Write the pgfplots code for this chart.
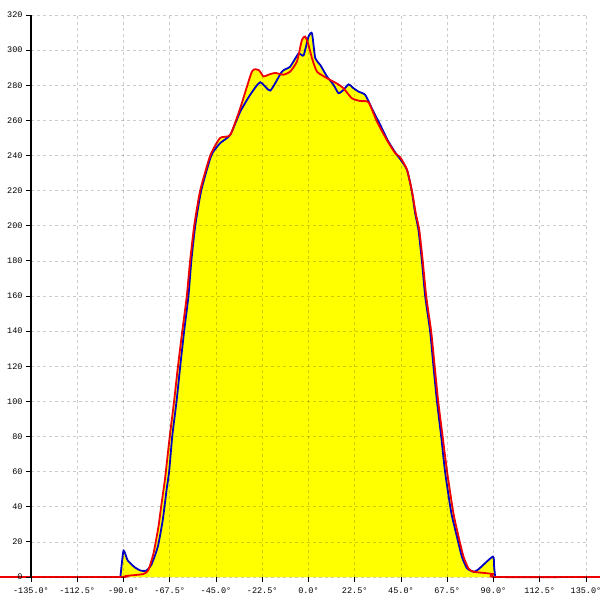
\documentclass[border=0pt]{standalone}
\usepackage{fontspec}
\setmonofont{Liberation Mono}
\usepackage{pgfplots}
\pgfplotsset{compat=1.18}
\definecolor{lblue}{RGB}{0,0,200}
\definecolor{lred}{RGB}{240,0,0}
\definecolor{lyellow}{RGB}{255,255,0}

\pgfplotstableread{
x y
-91.5 0
-90.0 15.0
-88.0 9.5
-84.5 5.5
-81.5 3.6
-79.0 3.6
-76.5 6.8
-73.3 17.3
-70.9 32.5
-69.0 50
-67.8 60
-66.3 80
-64.2 100
-62.4 120
-60.5 140
-58.4 160
-57.0 180
-55.1 200
-52.2 220
-47.3 240
-43.0 247
-38.1 251.7
-33.2 265
-28.4 274.5
-23.5 281.7
-18.6 277
-12.9 287.8
-8.9 290.6
-4.9 298
-2.4 297
0.0 307.7
1.7 309.5
3.3 295.4
5.7 291.6
9.0 285
12.2 280.2
14.6 275.5
17.0 277.3
19.5 280.5
21.9 278.3
24.3 276.4
27.6 274.5
30.8 266.9
34.9 257.4
38.9 247.9
43.0 240.3
44.6 238
47.9 231.8
50.3 219.4
51.9 207
53.5 197.6
55.2 179.6
56.8 159.6
59.2 139.7
60.8 119.8
62.5 100
64.6 79.6
66.5 59.4
69.4 37
72.2 23
74.6 11.6
77.1 5
80.3 3
82.7 4.4
89.7 11.6
90.3 5.9
90.8 0
}\blueTab

\pgfplotstableread{
x y
-150 0
-91.5 0
-89.0 0.6
-80.3 1.7
-77.9 4
-75.4 13.5
-73.0 28.6
-71.7 40
-69.9 55
-69.4 60
-67.5 80
-65.4 100
-63.5 120
-61.4 140
-59.2 160
-57.6 180
-55.6 200
-52.7 220
-47.8 240
-43.0 250
-38.1 251.7
-33.2 267
-27.5 287.8
-24.3 288.7
-21.9 285
-19.5 286
-16.2 287
-12.2 286
-8.9 287.8
-5.6 293.6
-3.2 305.8
-1.6 307.7
0.0 303
1.7 295.4
4.1 287.8
9.0 284
13.8 281
17.0 278.3
21.1 272.6
25.2 271
29.2 270.3
33.3 259.3
38.1 248.9
42.2 241.3
44.6 239
47.9 232
50.3 220
52.2 207
53.9 197.6
55.6 179.6
57.3 159.6
59.7 139.7
61.4 119.8
63.1 100
65.3 79.6
67.5 59.4
70.5 36.3
73.0 23
75.4 11.6
77.8 5
80.3 3
89.7 1.7
90.8 0
141.8 0
}\redTab

\begin{document}
\begin{tikzpicture}
\begin{axis}[name=ax,
  scale only axis, width=555pt, height=562pt,
  xmin=-135, xmax=135, ymin=0, ymax=320,
  axis x line*=bottom, axis y line*=left,
  x axis line style={draw=none},
  y axis line style={black, line width=1.3pt, -},
  axis on top,
  clip=false,
  tick align=outside, major tick length=5pt,
  tick style={black, line width=0.9pt},
  xtick={-135,-112.5,-90,-67.5,-45,-22.5,0,22.5,45,67.5,90,112.5,135},
  xticklabels={-135.0°,-112.5°,-90.0°,-67.5°,-45.0°,-22.5°,0.0°,22.5°,45.0°,67.5°,90.0°,112.5°,135.0°},
  xticklabel style={yshift=-2pt},
  ytick={0,20,...,320},
  /pgf/number format/assume math mode=true,
  grid=major,
  grid style={black, opacity=0.2, dash pattern=on 3pt off 3pt, line width=0.7pt},
  ticklabel style={font=\fontsize{8.5}{9}\selectfont\ttfamily},
]
\addplot[fill=lyellow, draw=none, smooth, tension=0.35] table {\blueTab} \closedcycle;
\addplot[fill=lyellow, draw=none, smooth, tension=0.35] table {\redTab} \closedcycle;
\addplot[lblue, line width=1.8pt, smooth, tension=0.35] table {\blueTab};
\addplot[lred, line width=1.8pt, smooth, tension=0.35] table {\redTab};
\end{axis}
\pgfresetboundingbox
\path[use as bounding box] ([shift={(-31pt,-23pt)}]ax.south west) rectangle ([shift={(14pt,15pt)}]ax.north east);
\end{tikzpicture}
\end{document}
